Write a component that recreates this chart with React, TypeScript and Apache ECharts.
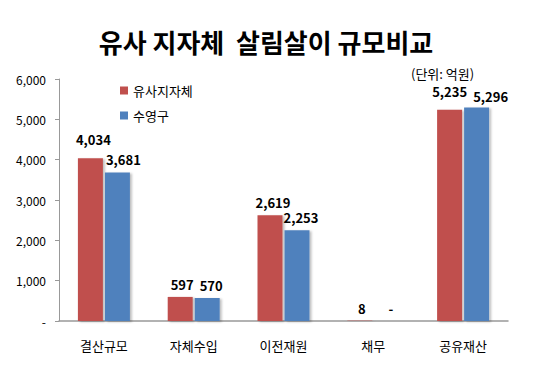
import React, { useEffect, useRef } from "react";
import * as echarts from "echarts";

const categories = ["결산규모", "자체수입", "이전재원", "채무", "공유재산"];
const seriesNames = ["유사지자체", "수영구"];
const similarValues = [4034, 597, 2619, 8, 5235];
const suyeongValues = [3681, 570, 2253, 0, 5296];
const colors = ["#C0504D", "#4F81BD"];

const FONT = "'Noto Sans CJK KR', 'Noto Sans', sans-serif";

function fmt(v: number): string {
  if (v === 0) return "-";
  return v.toLocaleString("en-US");
}

// per-bar label nudges (Excel-style label placement)
const similarOffsets = [[3, -6], [2, 0], [3, 0], [2, 0], [0, -6]];
const suyeongOffsets = [[6, -1], [4, 0], [4, 0], [4, 0], [14, 2]];

export default function App() {
  const ref = useRef<HTMLDivElement>(null);
  useEffect(() => {
    document.body.style.margin = "0";
    if (!ref.current) return;
    const chart = echarts.init(ref.current, null, { renderer: "svg" });
    const makeSeries = (name: string, data: number[], color: string, offs: number[][]) => ({
      name,
      type: "bar",
      data: data.map((v, i) => ({ value: v, label: { offset: offs[i] } })),
      barWidth: 25,
      barGap: "8%",
      itemStyle: {
        color,
        shadowColor: "rgba(0,0,0,0.25)",
        shadowOffsetX: 2,
        shadowOffsetY: 1,
        shadowBlur: 2,
      },
      label: {
        show: true,
        position: "top",
        distance: 6,
        fontFamily: FONT,
        fontWeight: "bold",
        fontSize: 13,
        color: "#000",
        formatter: (p: any) => fmt(p.value),
      },
    });
    chart.setOption({
      animation: false,
      backgroundColor: "#fff",
      title: {
        text: "유사 지자체  살림살이 규모비교",
        left: 261,
        textAlign: "center",
        top: 23,
        textStyle: {
          fontFamily: FONT,
          fontWeight: "bold",
          fontSize: 26,
          color: "#000",
        },
      },
      graphic: [
        {
          type: "text",
          left: 411,
          top: 67,
          style: {
            text: "(단위: 억원)",
            fontFamily: FONT,
            fontSize: 13,
            fill: "#000",
          },
        },
      ],
      legend: {
        orient: "vertical",
        left: 115,
        top: 79,
        itemWidth: 8,
        itemHeight: 8,
        itemGap: 12,
        icon: "rect",
        textStyle: { fontFamily: FONT, fontSize: 13, color: "#000" },
        data: seriesNames,
      },
      grid: { left: 59, right: 32, top: 79, bottom: 51 },
      xAxis: {
        type: "category",
        data: categories,
        axisLine: { lineStyle: { color: "#999", width: 1.5 } },
        axisTick: { show: false },
        axisLabel: {
          fontFamily: FONT,
          fontSize: 13,
          color: "#000",
          margin: 18,
        },
      },
      yAxis: {
        type: "value",
        min: 0,
        max: 6000,
        interval: 1000,
        splitLine: { show: false },
        axisLine: { show: true, lineStyle: { color: "#999" } },
        axisTick: { show: true, length: 4, lineStyle: { color: "#999" } },
        axisLabel: {
          fontFamily: FONT,
          fontSize: 12,
          color: "#000",
          margin: 13,
          formatter: (v: number) => fmt(v),
        },
      },
      series: [
        makeSeries(seriesNames[0], similarValues, colors[0], similarOffsets),
        makeSeries(seriesNames[1], suyeongValues, colors[1], suyeongOffsets),
      ],
    });
    return () => chart.dispose();
  }, []);
  return <div ref={ref} style={{ width: 540, height: 372 }} />;
}
